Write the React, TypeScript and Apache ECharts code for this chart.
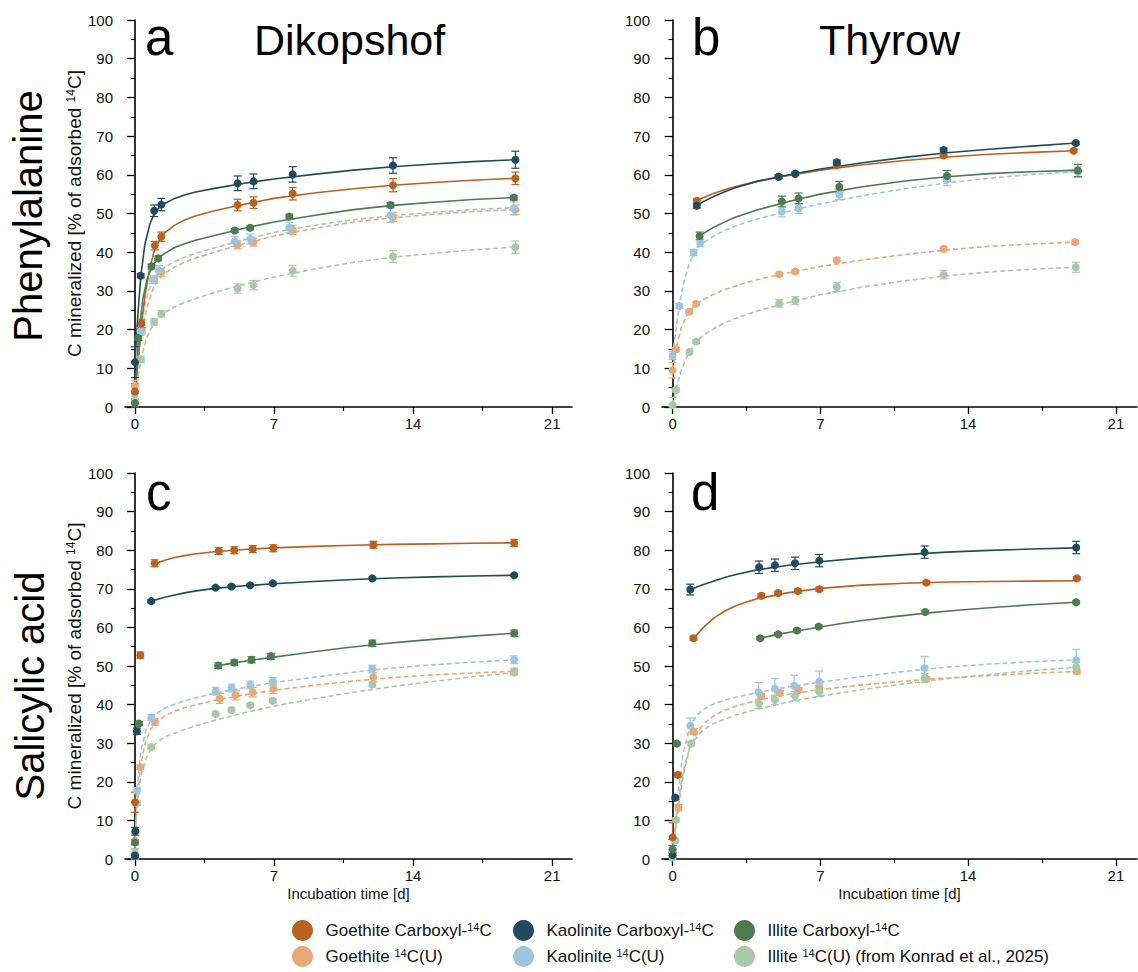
import React, { useEffect, useRef } from 'react';
import * as echarts from 'echarts';

const FONT = '"Liberation Sans", Arial, Helvetica, sans-serif';

// Measured points: [incubation time (d), C mineralized (% of adsorbed 14C), error]
// Panel a: Phenylalanine, Dikopshof
const aGoeC = [[0, 4, 2], [0.33, 21.5, 1], [1, 41.7, 1.1], [1.33, 44, 1.2], [5.17, 52.2, 1.5], [5.97, 52.8, 1.5], [7.94, 55.1, 1.6], [12.99, 57.3, 1.7], [19.15, 59.1, 1.6]];
const aGoeU = [[0, 5.4, 1.5], [0.35, 19.7, 0.8], [0.97, 32.8, 0.9], [1.33, 34.8, 1], [5.17, 41.9, 1], [5.97, 42.6, 1], [7.94, 45.8, 1.2], [12.99, 49.1, 1.2], [19.15, 51, 1.2]];
const aKaoC = [[0, 11.6, 4], [0.29, 33.9, 0.5], [0.97, 50.7, 1.5], [1.33, 52.3, 1.6], [5.17, 57.8, 1.9], [5.97, 58.3, 1.9], [7.94, 60.1, 2], [12.99, 62.4, 2], [19.15, 63.9, 2.2]];
const aKaoU = [[0, 3.5, 1.5], [0.28, 19.5, 1], [0.9, 32.9, 1], [1.2, 35.3, 1.2], [5.02, 42.8, 1.3], [5.8, 43.4, 1.3], [7.77, 46.4, 1.3], [12.86, 49.5, 1.8], [19.07, 51.3, 1.7]];
const aIllC = [[0, 1, 1], [0.17, 17.8, 0.6], [0.83, 36.3, 0.6], [1.17, 38.4, 0.6], [5.02, 45.6, 0.5], [5.8, 46.3, 0.5], [7.77, 49.2, 0.6], [12.86, 52.2, 0.6], [19.07, 54.1, 0.6]];
const aIllU = [[0, 1.7, 1], [0.3, 12.3, 0.8], [0.97, 22, 0.8], [1.33, 24.1, 0.8], [5.17, 30.6, 1.2], [5.97, 31.5, 1.2], [7.94, 35.2, 1.4], [12.99, 38.9, 1.5], [19.15, 41.3, 1.6]];

// Panel b: Phenylalanine, Thyrow
const bGoeC = [[1.15, 53.3, 0.5], [5.02, 59.5, 0.4], [5.81, 60.2, 0.4], [7.78, 62.5, 0.4], [12.84, 65, 0.4], [19, 66.2, 0.4]];
const bGoeU = [[0, 9.5, 2], [0.16, 14.9, 0.5], [0.79, 24.6, 0.5], [1.12, 26.7, 0.5], [5.05, 34.3, 0.5], [5.81, 35, 0.5], [7.78, 38, 0.5], [12.84, 40.9, 0.5], [19.07, 42.6, 0.5]];
const bKaoC = [[1.15, 52, 0.6], [5.02, 59.5, 0.4], [5.81, 60.3, 0.4], [7.78, 63.2, 0.6], [12.84, 66.4, 0.5], [19.1, 68.2, 0.4]];
const bKaoU = [[0, 13.3, 1], [0.32, 26.1, 0.6], [1, 39.9, 0.8], [1.31, 42.4, 1], [5.18, 50.5, 1.4], [5.97, 51.3, 1.3], [7.9, 54.9, 1.3], [13, 58.7, 1.5], [19.2, 60.7, 1.3]];
const bIllC = [[1.28, 44.2, 1], [5.18, 53.1, 1.4], [5.97, 53.9, 1.4], [7.9, 56.9, 1.4], [13, 59.7, 1.4], [19.2, 61.1, 1.6]];
const bIllU = [[0, 0.5, 2], [0.16, 4.4, 0.5], [0.8, 14.2, 0.5], [1.12, 16.9, 0.5], [5.05, 26.8, 1], [5.81, 27.5, 1], [7.78, 31, 1.2], [12.84, 34.2, 1.1], [19.1, 36.1, 1.3]];

// Panel c: Salicylic acid, Dikopshof
const cGoeC = [[0, 14.7, 2.6], [0.27, 52.8, 0.8], [0.99, 76.6, 0.9], [4.22, 79.8, 0.9], [5, 80, 0.9], [5.93, 80.3, 0.9], [6.97, 80.5, 0.9], [12, 81.4, 0.9], [19.09, 81.9, 0.9]];
const cGoeU = [[0, 4.7, 2], [0.27, 23.8, 0.6], [1, 35.5, 0.8], [4.26, 41.6, 1.3], [5.06, 42.4, 1.2], [5.93, 43.2, 1.2], [6.97, 44.1, 1.2], [12, 47.1, 1.2], [19.09, 48.6, 0.8]];
const cKaoC = [[0, 0.9, 0.5], [0.02, 7.2, 1], [0.1, 33.1, 0.8], [0.82, 66.8, 0.4], [4.06, 70.3, 0.3], [4.86, 70.6, 0.3], [5.8, 70.9, 0.3], [6.94, 71.4, 0.3], [11.95, 72.7, 0.3], [19.09, 73.5, 0.3]];
const cKaoU = [[0, 1.5, 1], [0.1, 17.7, 0.8], [0.82, 36.6, 0.8], [4.06, 43.5, 1], [4.86, 44.3, 1], [5.8, 45.1, 1], [6.94, 46, 1], [11.95, 49.2, 1], [19.09, 51.6, 1]];
const cIllC = [[0, 4.3, 0.6], [0.2, 35.1, 0.5], [4.19, 50.1, 0.7], [5, 50.9, 0.7], [5.87, 51.6, 0.8], [6.85, 52.5, 0.8], [11.95, 55.9, 0.8], [19.09, 58.5, 0.8]];
const cIllU = [[0, 1, 1], [0.1, 14.5, 0.6], [0.82, 29, 0.5], [4.06, 37.6, 0.5], [4.86, 38.6, 0.5], [5.8, 39.8, 0.5], [6.94, 41, 0.5], [11.95, 45.2, 0.6], [19.09, 48.3, 0.6]];

// Panel d: Salicylic acid, Thyrow
const dGoeC = [[0, 5.6, 3.8], [0.25, 21.8, 0.5], [0.99, 57.2, 0.5], [4.2, 68.2, 0.5], [5, 68.9, 0.5], [5.94, 69.4, 0.5], [6.95, 69.9, 0.5], [12.02, 71.6, 0.4], [19.15, 72.7, 0.4]];
const dGoeU = [[0, 1.5, 1], [0.28, 13.3, 0.8], [1, 33, 0.8], [4.2, 42.2, 0.6], [5.08, 43, 0.6], [5.97, 43.8, 0.6], [6.95, 44.3, 0.7], [12.02, 46.7, 0.6], [19.15, 48.6, 0.6]];
const dKaoC = [[0, 1, 0.8], [0.13, 15.9, 0.4], [0.84, 69.8, 1.4], [4.1, 75.6, 1.6], [4.85, 76.1, 1.6], [5.8, 76.6, 1.6], [6.95, 77.3, 1.6], [11.94, 79.5, 1.6], [19.12, 80.7, 1.6]];
const dKaoU = [[0, 2, 1.5], [0.13, 4.8, 0.5], [0.84, 34.5, 2], [4.07, 43.2, 2.5], [4.85, 44.1, 2.6], [5.76, 44.9, 2.7], [6.95, 45.9, 2.8], [11.94, 49.4, 3.1], [19.12, 51.5, 2.8]];
const dIllC = [[0, 2.5, 1], [0.2, 29.9, 0.4], [4.15, 57.2, 0.4], [5, 58.2, 0.4], [5.89, 59.2, 0.4], [6.92, 60.2, 0.4], [11.97, 64, 0.4], [19.12, 66.5, 0.4]];
const dIllU = [[0, 0.4, 0.5], [0.16, 10.1, 0.5], [0.88, 29.9, 0.5], [4.1, 40.2, 1.2], [4.85, 41.2, 1.2], [5.8, 42.2, 1.2], [6.95, 43.3, 1.2], [11.94, 46.9, 1.2], [19.12, 49.7, 1.2]];

// Fitted curves: [time (d), C mineralized (%)]
const aGoeCFit = [[0, 4], [0.15, 11], [0.33, 21.5], [0.5, 28.5], [0.75, 36], [1, 40.8], [1.25, 43.3], [1.5, 45], [2, 47], [2.5, 48.3], [3, 49.3], [4, 50.7], [5.5, 52.4], [7, 53.9], [9, 55.3], [11, 56.4], [13, 57.3], [15, 58], [17, 58.6], [19.15, 59.1]];
const aGoeUFit = [[0, 5.4], [0.15, 12], [0.35, 19.7], [0.6, 25.5], [0.8, 29], [1, 31.6], [1.25, 33.3], [1.5, 34.6], [2, 36.2], [2.5, 37.4], [3, 38.4], [4, 40], [5.5, 42.2], [7, 44.2], [9, 46.1], [11, 47.8], [13, 48.9], [15, 49.8], [17, 50.5], [19.15, 51]];
const aKaoCFit = [[0, 11.6], [0.15, 24], [0.3, 34], [0.5, 42], [0.75, 47.3], [1, 50.3], [1.25, 51.7], [1.5, 52.6], [2, 53.9], [2.5, 54.8], [3, 55.5], [4, 56.5], [5.5, 57.8], [7, 58.9], [9, 60.1], [11, 61.2], [13, 62.1], [15, 62.8], [17, 63.4], [19.15, 63.9]];
const aKaoUFit = [[0, 3.5], [0.15, 12], [0.28, 19.5], [0.5, 26.5], [0.75, 31], [1, 33.6], [1.25, 35], [1.5, 36.1], [2, 37.6], [2.5, 38.7], [3, 39.6], [4, 41.1], [5.5, 43.2], [7, 45.1], [9, 46.9], [11, 48.4], [13, 49.5], [15, 50.3], [17, 51], [19.07, 51.5]];
const aIllCFit = [[0, 1], [0.17, 17.8], [0.4, 28], [0.6, 32.8], [0.83, 36], [1.17, 38.5], [1.5, 39.7], [2, 41.2], [2.5, 42.2], [3, 43], [4, 44.3], [5.5, 46.2], [7, 47.8], [9, 49.5], [11, 51], [13, 52.1], [15, 52.9], [17, 53.6], [19.07, 54.1]];
const aIllUFit = [[0, 1.7], [0.15, 7.5], [0.3, 12.3], [0.6, 18], [0.8, 20.2], [1, 21.9], [1.25, 23.4], [1.5, 24.4], [2, 25.9], [2.5, 27], [3, 27.9], [4, 29.6], [5.5, 31.7], [7, 33.6], [9, 35.6], [11, 37.4], [13, 38.7], [15, 39.7], [17, 40.6], [19.15, 41.3]];

const bGoeCFit = [[1.15, 53.3], [1.5, 54.2], [2, 55.3], [2.5, 56.2], [3, 57], [4, 58.3], [5.5, 59.8], [7, 61.2], [9, 62.6], [11, 63.7], [13, 64.6], [15, 65.3], [17, 65.8], [19, 66.2]];
const bGoeUFit = [[0, 9.5], [0.16, 14.9], [0.4, 20.3], [0.6, 22.8], [0.79, 24.6], [1.12, 26.6], [1.5, 27.9], [2, 29.3], [2.5, 30.4], [3, 31.3], [4, 32.9], [5.5, 34.7], [7, 36.3], [9, 38], [11, 39.4], [13, 40.6], [15, 41.5], [17, 42.1], [19.07, 42.6]];
const bKaoCFit = [[1.15, 52], [1.5, 53.2], [2, 54.5], [2.5, 55.7], [3, 56.7], [4, 58.3], [5.5, 60], [7, 61.5], [9, 63.1], [11, 64.5], [13, 65.7], [15, 66.6], [17, 67.4], [19.1, 68.2]];
const bKaoUFit = [[0, 13.3], [0.15, 19.5], [0.32, 26.1], [0.5, 31.5], [0.75, 36.4], [1, 39.6], [1.25, 41.5], [1.5, 42.6], [2, 44.3], [2.5, 45.7], [3, 46.8], [4, 48.6], [5.5, 50.6], [7, 52.5], [9, 54.6], [11, 56.4], [13, 57.9], [15, 59.1], [17, 60.1], [19.2, 60.8]];
const bIllCFit = [[1.28, 44.2], [1.6, 45.3], [2, 46.6], [2.5, 47.9], [3, 49.1], [4, 50.9], [5.5, 53.1], [7, 55], [9, 56.9], [11, 58.4], [13, 59.5], [15, 60.3], [17, 60.8], [19.2, 61.2]];
const bIllUFit = [[0, 0.5], [0.16, 4.4], [0.4, 9.4], [0.6, 12], [0.8, 14.2], [1.12, 16.9], [1.5, 18.7], [2, 20.4], [2.5, 21.8], [3, 22.9], [4, 24.8], [5.5, 27], [7, 29], [9, 31], [11, 32.6], [13, 33.9], [15, 34.9], [17, 35.6], [19.1, 36.1]];

const cGoeCFit = [[0.99, 76.5], [1.5, 77.4], [2, 78.1], [2.5, 78.6], [3, 79], [4, 79.6], [5.5, 80.2], [7, 80.6], [9, 81], [11, 81.3], [13, 81.5], [15, 81.65], [17, 81.8], [19.09, 81.9]];
const cGoeUFit = [[0, 4.7], [0.1, 13.5], [0.27, 23.8], [0.5, 29.8], [0.8, 33.7], [1.2, 36], [1.6, 37.3], [2, 38.3], [2.5, 39.2], [3, 39.9], [4, 41.1], [5.5, 42.5], [7, 43.7], [9, 45], [11, 46.1], [13, 47], [15, 47.7], [17, 48.2], [19.09, 48.6]];
const cKaoCFit = [[0.82, 66.8], [1.4, 67.7], [2, 68.4], [2.5, 68.95], [3, 69.4], [4, 70.1], [5.5, 70.8], [7, 71.3], [9, 71.9], [11, 72.4], [13, 72.8], [15, 73.1], [17, 73.3], [19.09, 73.5]];
const cKaoUFit = [[0, 1.5], [0.1, 17.7], [0.3, 28], [0.55, 33.3], [0.82, 36.2], [1.2, 38.1], [1.6, 39.3], [2, 40.1], [2.5, 41], [3, 41.7], [4, 42.9], [5.5, 44.4], [7, 45.7], [9, 47.1], [11, 48.4], [13, 49.5], [15, 50.3], [17, 51], [19.09, 51.6]];
const cIllCFit = [[4.19, 50.1], [5, 50.8], [6, 51.6], [7, 52.3], [8, 53], [9, 53.7], [10.5, 54.65], [12, 55.5], [13.5, 56.25], [15, 56.9], [17, 57.75], [19.09, 58.5]];
const cIllUFit = [[0, 1], [0.1, 14.5], [0.3, 21.5], [0.55, 25.9], [0.82, 28.8], [1.2, 30.6], [1.6, 31.8], [2, 32.6], [2.5, 33.6], [3, 34.4], [4, 35.9], [5.5, 37.9], [7, 39.6], [9, 41.5], [11, 43.2], [13, 44.7], [15, 46], [17, 47.2], [19.09, 48.3]];

const dGoeCFit = [[0.99, 57.2], [1.5, 60.2], [2, 62.6], [2.5, 64.3], [3, 65.6], [3.5, 66.6], [4, 67.4], [5.5, 69], [7, 70.1], [9, 70.95], [11, 71.45], [13, 71.75], [15, 71.9], [17, 72], [19.15, 72.1]];
const dGoeUFit = [[0, 1.5], [0.28, 13.3], [0.5, 21.5], [0.8, 28.6], [1.2, 33.2], [1.6, 35.6], [2, 37.3], [2.5, 38.6], [3, 39.6], [4, 41.1], [5.5, 42.7], [7, 43.9], [9, 45.1], [11, 46.1], [13, 46.9], [15, 47.5], [17, 48.1], [19.15, 48.6]];
const dKaoCFit = [[0.84, 69.8], [1.4, 71], [2, 72.1], [2.5, 73], [3, 73.7], [4, 74.9], [5.5, 76.1], [7, 77], [9, 78], [11, 78.85], [13, 79.5], [15, 79.95], [17, 80.3], [19.12, 80.6]];
const dKaoUFit = [[0, 1], [0.13, 8], [0.3, 19], [0.5, 27.5], [0.84, 34.5], [1.2, 37.6], [1.6, 39.2], [2, 40.3], [2.5, 41.2], [3, 41.9], [4, 43.1], [5.5, 44.6], [7, 45.8], [9, 47.3], [11, 48.6], [13, 49.7], [15, 50.5], [17, 51.1], [19.12, 51.6]];
const dIllCFit = [[4.15, 57.2], [5, 58.2], [6, 59.2], [7, 60.1], [8, 61], [9, 61.8], [10.5, 62.8], [12, 63.7], [13.5, 64.45], [15, 65.1], [17, 65.85], [19.12, 66.5]];
const dIllUFit = [[0, 0.4], [0.16, 10.1], [0.4, 19.5], [0.6, 25], [0.88, 29.6], [1.3, 32.6], [1.6, 34], [2, 35.2], [2.5, 36.3], [3, 37.3], [4, 38.8], [5.5, 40.7], [7, 42.2], [9, 43.9], [11, 45.4], [13, 46.7], [15, 47.8], [17, 48.8], [19.12, 49.7]];

const xLabelTicks = [0, 7, 14, 21];
const xMinorTicks = [3.5, 10.5, 17.5];

const panelLetters = ['a', 'b', 'c', 'd'];
const siteNames = ['Dikopshof', 'Thyrow'];
const rowNames = ['Phenylalanine', 'Salicylic acid'];

// draw order: 14C(U) series first, carboxyl series on top
const KEYS = ['goeU', 'kaoU', 'illU', 'goeC', 'kaoC', 'illC'];
const NAMES: Record<string, string> = {
  goeC: 'Goethite Carboxyl-14C',
  goeU: 'Goethite 14C(U)',
  kaoC: 'Kaolinite Carboxyl-14C',
  kaoU: 'Kaolinite 14C(U)',
  illC: 'Illite Carboxyl-14C',
  illU: 'Illite 14C(U) (from Konrad et al., 2025)',
};
const COLORS: Record<string, string> = {
  goeC: '#BA611F',
  goeU: '#E9A877',
  kaoC: '#1F4A5F',
  kaoU: '#9DC6DE',
  illC: '#4B7B4F',
  illU: '#A8C9A8',
};

const PANEL_DATA = [
  { sets: [aGoeU, aKaoU, aIllU, aGoeC, aKaoC, aIllC], fits: [aGoeUFit, aKaoUFit, aIllUFit, aGoeCFit, aKaoCFit, aIllCFit] },
  { sets: [bGoeU, bKaoU, bIllU, bGoeC, bKaoC, bIllC], fits: [bGoeUFit, bKaoUFit, bIllUFit, bGoeCFit, bKaoCFit, bIllCFit] },
  { sets: [cGoeU, cKaoU, cIllU, cGoeC, cKaoC, cIllC], fits: [cGoeUFit, cKaoUFit, cIllUFit, cGoeCFit, cKaoCFit, cIllCFit] },
  { sets: [dGoeU, dKaoU, dIllU, dGoeC, dKaoC, dIllC], fits: [dGoeUFit, dKaoUFit, dIllUFit, dGoeCFit, dKaoCFit, dIllCFit] },
];

const GRIDS = [
  { left: 125, top: 20, width: 447, height: 387 },
  { left: 662, top: 20, width: 475, height: 387 },
  { left: 125, top: 473, width: 447, height: 386 },
  { left: 662, top: 473, width: 475, height: 386 },
];

function buildOption() {
  const axisLineStyle = { color: '#000', width: 1.6 };
  const xAxis: any[] = [];
  const yAxis: any[] = [];
  const series: any[] = [];

  GRIDS.forEach((_, i) => {
    const bottomRow = i >= 2;
    const leftCol = i % 2 === 0;
    xAxis.push({
      gridIndex: i,
      type: 'value',
      min: -0.5,
      max: 22,
      position: 'bottom',
      name: bottomRow ? 'Incubation time [d]' : '',
      nameLocation: 'middle',
      nameGap: 27,
      nameTextStyle: { fontSize: 15, color: '#111', fontFamily: FONT },
      axisLine: { show: true, onZero: false, lineStyle: axisLineStyle },
      axisTick: { show: true, length: 7, customValues: xLabelTicks, lineStyle: { color: '#000', width: 1.3 } },
      axisLabel: { customValues: xLabelTicks, fontSize: 15, color: '#111', fontFamily: FONT, margin: 9 },
      splitLine: { show: false },
    });
    xAxis.push({
      gridIndex: i,
      type: 'value',
      min: -0.5,
      max: 22,
      position: 'bottom',
      axisLine: { show: false, onZero: false },
      axisTick: { show: true, length: 4, customValues: xMinorTicks, lineStyle: { color: '#000', width: 1.1 } },
      axisLabel: { show: false },
      splitLine: { show: false },
    });
    yAxis.push({
      gridIndex: i,
      type: 'value',
      min: 0,
      max: 100,
      interval: 10,
      name: leftCol ? 'C mineralized [% of adsorbed {sup|14}C]' : '',
      nameLocation: 'middle',
      nameGap: 38,
      nameTextStyle: {
        fontSize: 19,
        color: '#111',
        fontFamily: FONT,
        rich: { sup: { fontSize: 12, verticalAlign: 'top', fontFamily: FONT, color: '#111', padding: [0, 0, 8, 0] } },
      },
      axisLine: { show: true, lineStyle: axisLineStyle },
      axisTick: { show: true, length: 8, lineStyle: { color: '#000', width: 1.3 } },
      minorTick: { show: true, splitNumber: 2, length: 4, lineStyle: { color: '#000', width: 1.1 } },
      axisLabel: { fontSize: 15, color: '#111', fontFamily: FONT, margin: 12 },
      splitLine: { show: false },
      minorSplitLine: { show: false },
    });

    const pd = PANEL_DATA[i];
    KEYS.forEach((k, j) => {
      const pts = pd.sets[j];
      const color = COLORS[k];
      const dashed = k.endsWith('U');
      series.push({
        type: 'scatter',
        name: NAMES[k],
        xAxisIndex: i * 2,
        yAxisIndex: i,
        data: pts.map((p) => [p[0], p[1]]),
        symbol: 'circle',
        symbolSize: 8,
        itemStyle: { color, opacity: 1 },
        z: 4,
        silent: true,
      });
      series.push({
        type: 'custom',
        name: NAMES[k],
        xAxisIndex: i * 2,
        yAxisIndex: i,
        coordinateSystem: 'cartesian2d',
        data: pts,
        encode: { x: 0, y: 1 },
        z: 3,
        silent: true,
        renderItem: (_params: any, api: any) => {
          const x = api.value(0);
          const y = api.value(1);
          const e = api.value(2);
          const t = api.coord([x, y + e]);
          const b = api.coord([x, Math.max(y - e, 0)]);
          const w = 4;
          const st = { stroke: color, lineWidth: 1.2, fill: null };
          return {
            type: 'group',
            children: [
              { type: 'line', shape: { x1: t[0], y1: t[1], x2: b[0], y2: b[1] }, style: st },
              { type: 'line', shape: { x1: t[0] - w, y1: t[1], x2: t[0] + w, y2: t[1] }, style: st },
              { type: 'line', shape: { x1: b[0] - w, y1: b[1], x2: b[0] + w, y2: b[1] }, style: st },
            ],
          };
        },
      });
      series.push({
        type: 'line',
        name: NAMES[k],
        xAxisIndex: i * 2,
        yAxisIndex: i,
        data: pd.fits[j],
        smooth: false,
        showSymbol: false,
        symbol: 'none',
        lineStyle: { color, width: 1.6, type: dashed ? [5, 3] : 'solid', join: 'round' },
        z: 2,
        silent: true,
      });
    });
  });

  const legendItem = (left: number, top: number, k: string) => ({
    orient: 'horizontal',
    left,
    top,
    padding: 0,
    itemWidth: 36,
    itemHeight: 21,
    selectedMode: false,
    formatter: (name: string) => name.replace('14', '{sup|14}'),
    textStyle: {
      fontSize: 17,
      color: '#111',
      fontFamily: FONT,
      rich: { sup: { fontSize: 11, verticalAlign: 'top', fontFamily: FONT, color: '#111', padding: [0, 0, 7, 0] } },
    },
    data: [{ name: NAMES[k], icon: 'circle', itemStyle: { color: COLORS[k] } }],
  });

  const titleFont = (size: number) => ({ fontSize: size, fontFamily: FONT, fill: '#000' });

  const graphic: any[] = [
    { type: 'text', x: 145, y: 37, style: { text: panelLetters[0], ...titleFont(51), verticalAlign: 'middle' } },
    { type: 'text', x: 254, y: 40, style: { text: siteNames[0], ...titleFont(43), verticalAlign: 'middle' } },
    { type: 'text', x: 692, y: 37, style: { text: panelLetters[1], ...titleFont(51), verticalAlign: 'middle' } },
    { type: 'text', x: 819, y: 40, style: { text: siteNames[1], ...titleFont(43), verticalAlign: 'middle' } },
    { type: 'text', x: 146, y: 492, style: { text: panelLetters[2], ...titleFont(51), verticalAlign: 'middle' } },
    { type: 'text', x: 691, y: 492, style: { text: panelLetters[3], ...titleFont(51), verticalAlign: 'middle' } },
    {
      type: 'text', x: 28, y: 216, rotation: Math.PI / 2,
      style: { text: rowNames[0], ...titleFont(40), align: 'center', verticalAlign: 'middle' },
    },
    {
      type: 'text', x: 30, y: 686, rotation: Math.PI / 2,
      style: { text: rowNames[1], ...titleFont(40), align: 'center', verticalAlign: 'middle' },
    },
  ];

  return {
    animation: false,
    backgroundColor: '#fff',
    textStyle: { fontFamily: FONT },
    grid: GRIDS,
    xAxis,
    yAxis,
    series,
    legend: [
      legendItem(292, 920, 'goeC'),
      legendItem(292, 946, 'goeU'),
      legendItem(513, 920, 'kaoC'),
      legendItem(513, 946, 'kaoU'),
      legendItem(734, 920, 'illC'),
      legendItem(734, 946, 'illU'),
    ],
    graphic,
  };
}

export default function App() {
  const ref = useRef<HTMLDivElement>(null);
  useEffect(() => {
    if (!ref.current) return;
    const chart = echarts.init(ref.current, null, { renderer: 'svg' });
    chart.setOption(buildOption() as any);
    return () => chart.dispose();
  }, []);
  return (
    <div
      ref={ref}
      style={{ position: 'absolute', left: 0, top: 0, width: 1138, height: 972, background: '#fff' }}
    />
  );
}
